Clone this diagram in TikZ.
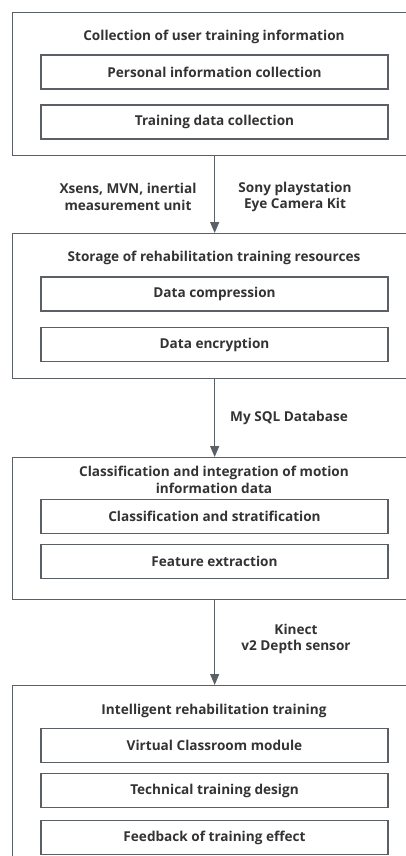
\documentclass[tikz,border=0pt]{standalone}
\usepackage{fontspec}
\setmainfont{Open Sans}
\usetikzlibrary{arrows.meta}
\definecolor{framegray}{HTML}{5B6066}
\definecolor{inkgray}{HTML}{333333}
\tikzset{
  frame/.style={draw=framegray, line width=1.3pt, anchor=north west,
    minimum width=404pt, inner sep=0pt},
  stepbox/.style={draw=framegray, line width=1.3pt, minimum width=347pt,
    minimum height=34pt, inner sep=0pt, text=inkgray,
    font=\fontsize{13.6}{16}\selectfont\bfseries},
  caption/.style={text=inkgray, align=center, inner sep=0pt,
    font=\fontsize{13.6}{16.5}\selectfont\bfseries},
  flow/.style={draw=framegray, line width=1.3pt,
    -{Triangle[length=11pt,width=9pt]}}
}
\begin{document}
\begin{tikzpicture}[x=1pt,y=-1pt]
\useasboundingbox (0,0) rectangle (406,856);
\clip (0,0) rectangle (406,856);

% stage 1
\node[frame, minimum height=143pt] (s1) at (12,12) {};
\node[caption] (t1) at (214,37) {Collection of user training information};
\node[stepbox] (a1) at (214.5,72) {Personal information collection};
\node[stepbox] (a2) at (214.5,122) {Training data collection};

% stage 2
\node[frame, minimum height=145pt] (s2) at (12,233) {};
\node[caption] (t2) at (214,258) {Storage of rehabilitation training resources};
\node[stepbox] (b1) at (214.5,294) {Data compression};
\node[stepbox] (b2) at (214.5,344.5) {Data encryption};

% stage 3
\node[frame, minimum height=142pt] (s3) at (12,457) {};
\node[caption] (t3) at (214,480) {Classification and integration of motion\\information data};
\node[stepbox] (c1) at (214.5,516.5) {Classification and stratification};
\node[stepbox] (c2) at (214.5,561.5) {Feature extraction};

% stage 4
\node[frame, minimum height=185pt] (s4) at (12,685) {};
\node[caption] (t4) at (214,711) {Intelligent rehabilitation training};
\node[stepbox] (d1) at (214.5,745.5) {Virtual Classroom module};
\node[stepbox] (d2) at (214.5,790.5) {Technical training design};
\node[stepbox] (d3) at (214.5,837.5) {Feedback of training effect};

% connectors between stages
\draw[flow] (s1.south) -- (s2.north);
\draw[flow] (s2.south) -- (s3.north);
\draw[flow] (s3.south) -- (s4.north);

% connector labels
\node[caption] (l1) at (128,197) {Xsens, MVN, inertial\\measurement unit};
\node[caption] (l2) at (295,197) {Sony playstation\\Eye Camera Kit};
\node[caption] (l3) at (289,418) {My SQL Database};
\node[caption] (l4) at (296,639) {Kinect\\v2 Depth sensor};
\end{tikzpicture}
\end{document}
